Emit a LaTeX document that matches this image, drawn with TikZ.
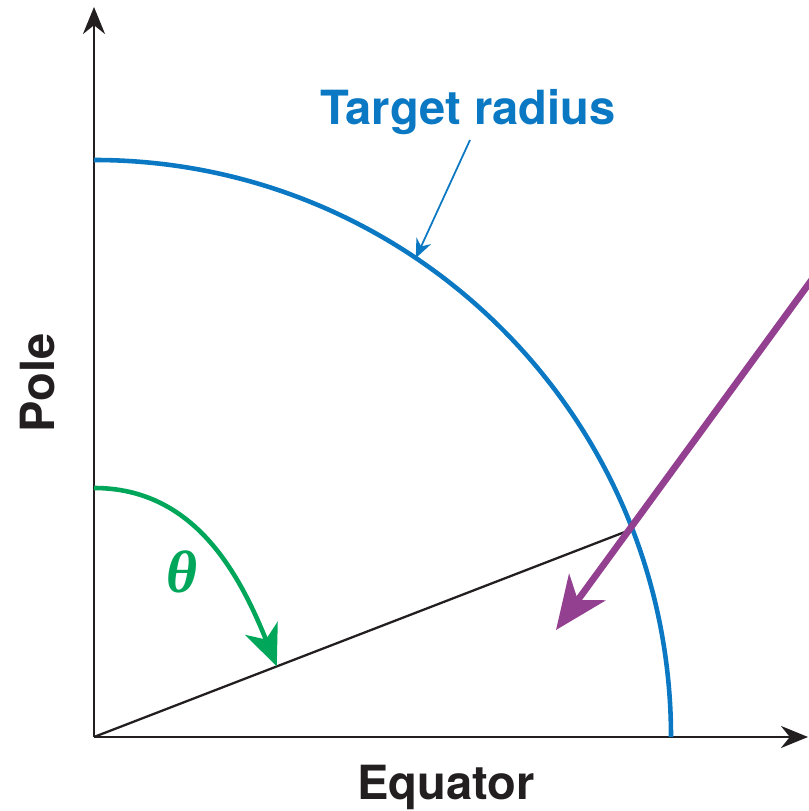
\documentclass[tikz,border=0pt]{standalone}
\usepackage{fontspec}
\setmainfont{TeX Gyre Heros}
\newfontfamily\thetafont{Liberation Serif}
\usetikzlibrary{arrows.meta,calc}

\definecolor{tblue}{RGB}{10,120,194}
\definecolor{tgreen}{RGB}{0,166,90}
\definecolor{tpurple}{RGB}{146,64,143}
\definecolor{tblack}{RGB}{35,31,32}

\tikzset{
    axis/.style={draw=tblack, line width=0.75pt, -{Stealth[length=2.7mm, width=2.2mm]}},
    lbl/.style={font=\fontsize{13.4}{15}\selectfont\bfseries, text=tblack, inner sep=0pt}
}

\begin{document}
\begin{tikzpicture}[>={Stealth}]

    % --- 0. 画布大小 (Canvas) ---
    \useasboundingbox (-0.94,-0.74) rectangle (7.14,7.37);

    % --- 1. 定义点 (Points) ---
    \coordinate (O) at (0,0);
    \coordinate (Ytop) at (0,7.30);
    \coordinate (Xend) at (7.14,0);
    \coordinate (R) at (5.36,2.07);          % 射线与目标半径的交点
    \coordinate (Pin) at (7.30,4.74);        % 紫色箭头的起点 (画面外)
    \coordinate (Pout) at (4.62,1.07);
    \coordinate (G0) at (0,2.49);
    \coordinate (G1) at ($(O)!0.341!(R)$);
    \coordinate (Tarc) at (56.1:5.77);

    % --- 2. 坐标轴 (Axes) ---
    \draw[axis] (O) -- (Ytop);
    \draw[axis] (O) -- (Xend);

    \node[lbl, rotate=90] (pole) at (-0.56,3.54) {Pole};
    \node[lbl] (equator) at (3.52,-0.50) {Equator};

    % --- 3. 蓝色目标半径 (Blue Arc) ---
    \draw[tblue, line width=1.3pt] (0,5.77) arc[start angle=90, end angle=0, radius=5.77];

    \node[lbl, text=tblue] (target) at (3.74,6.25) {Target radius};
    \draw[tblue, line width=0.5pt, -{Stealth[length=1.9mm, width=1.6mm]}]
        (3.76,5.97) -- (Tarc);

    % --- 4. 射线与角度 (Ray and Angle) ---
    \draw[tblack, line width=0.65pt] (O) -- (R);

    \draw[tgreen, line width=1.3pt, -{Stealth[length=4.1mm, width=3.5mm, inset=1.2mm]}]
        (G0) to[out=0, in=112] (G1);
    \node[text=tgreen, font=\fontsize{17}{19}\selectfont\thetafont\bfseries\itshape] (theta) at (0.88,1.65) {θ};

    % --- 5. 紫色入射箭头 (Purple Arrow) ---
    \draw[tpurple, line width=1.9pt, -{Stealth[length=5.3mm, width=4.5mm, inset=1.6mm]}]
        (Pin) -- (Pout);

\end{tikzpicture}
\end{document}
